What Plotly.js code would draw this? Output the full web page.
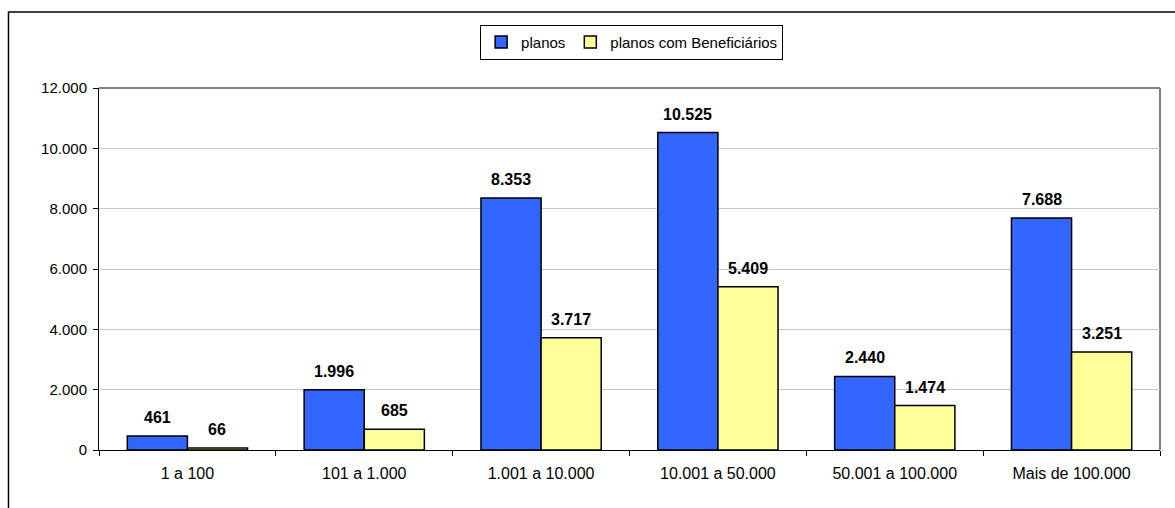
<!DOCTYPE html>
<html>
<head>
<meta charset="utf-8">
<script src="https://cdn.plot.ly/plotly-3.0.1.min.js"></script>
<style>html,body{margin:0;padding:0;background:#fff;}#chart{width:1175px;height:508px;}</style>
</head>
<body>
<div id="chart"></div>
<script>
const categories = ["1 a 100", "101 a 1.000", "1.001 a 10.000", "10.001 a 50.000", "50.001 a 100.000", "Mais de 100.000"];
const planos = [461, 1996, 8353, 10525, 2440, 7688];
const planosBenef = [66, 685, 3717, 5409, 1474, 3251];
const seriesNames = ["planos", "planos com Beneficiários"];
const yTicks = [0, 2000, 4000, 6000, 8000, 10000, 12000];

const fontFamily = "Liberation Sans, Arial, sans-serif";
const bargap = 0.32;
const plotW = 1175 - 99 - 15;
const catW = plotW / categories.length;
const barW = catW * (1 - bargap) / 2;

function fmt(v){ return String(v).replace(/\B(?=(\d{3})+(?!\d))/g, "."); }

const traces = [
  {type: "bar", name: seriesNames[0], x: categories, y: planos,
   marker: {color: "#3366FF", line: {color: "#000", width: 1.5}}, hoverinfo: "none"},
  {type: "bar", name: seriesNames[1], x: categories, y: planosBenef,
   marker: {color: "#FFFF99", line: {color: "#000", width: 1.5}}, hoverinfo: "none"}
];

const annotations = [];
[planos, planosBenef].forEach((arr, si) => {
  arr.forEach((v, i) => {
    annotations.push({x: categories[i], y: v, xref: "x", yref: "y", text: "<b>" + fmt(v) + "</b>",
      showarrow: false, xanchor: "center", yanchor: "bottom", xshift: (si === 0 ? -1 : 1) * barW / 2,
      yshift: 8, font: {family: fontFamily, size: 16, color: "#000"}});
  });
});

const layout = {
  width: 1175, height: 508,
  margin: {l: 99, r: 15, t: 88, b: 58},
  paper_bgcolor: "#fff", plot_bgcolor: "#fff",
  separators: ",.",
  font: {family: fontFamily, size: 15, color: "#000"},
  barmode: "group", bargap: bargap, bargroupgap: 0,
  showlegend: true,
  legend: {orientation: "h", x: 0.502, xanchor: "center", y: 1.175, yanchor: "top",
    bordercolor: "#000", borderwidth: 1, font: {family: fontFamily, size: 15}, traceorder: "normal",
    itemwidth: 30, tracegroupgap: 0},
  xaxis: {type: "category", showline: true, linecolor: "#000", linewidth: 1,
    ticks: "outside", tickson: "boundaries", ticklen: 5, tickcolor: "#000",
    showgrid: false, zeroline: false, tickfont: {size: 16}, ticklabelstandoff: 9},
  yaxis: {range: [0, 12000], tickvals: yTicks, tickformat: ",d", showline: true, linecolor: "#000", linewidth: 1,
    ticks: "outside", ticklen: 5, tickcolor: "#000", showgrid: true, gridcolor: "#C8C8C8", gridwidth: 1,
    zeroline: false, tickfont: {size: 15}, ticklabelstandoff: 3},
  shapes: [
    {type: "line", xref: "paper", yref: "paper", x0: 0, x1: 1, y0: 1, y1: 1, line: {color: "#808080", width: 2}, layer: "below"},
    {type: "line", xref: "paper", yref: "paper", x0: 1, x1: 1, y0: 0, y1: 1, line: {color: "#808080", width: 2}, layer: "below"},
    {type: "rect", xref: "paper", yref: "paper", x0: -0.0853, x1: 1.03, y0: 1.21, y1: -0.3, line: {color: "#000", width: 1.5}, fillcolor: "rgba(0,0,0,0)"}
  ],
  annotations: annotations
};

Plotly.newPlot("chart", traces, layout, {displayModeBar: false, staticPlot: true});
</script>
</body>
</html>
